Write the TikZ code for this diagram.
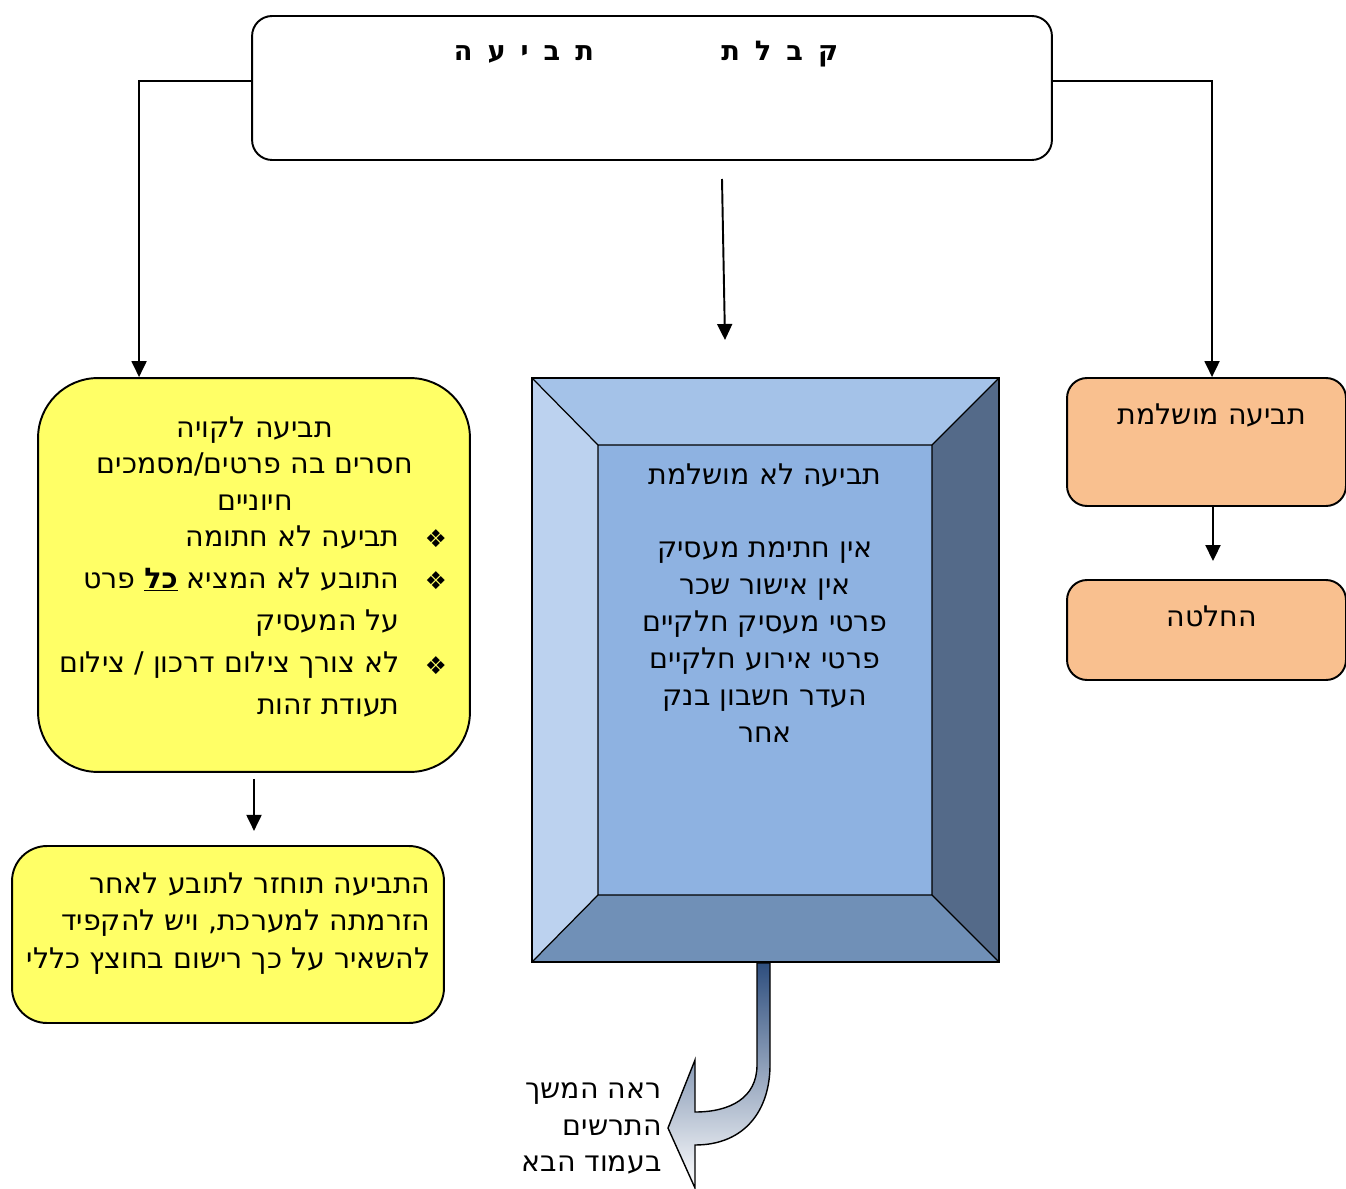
\documentclass[tikz,border=0pt]{standalone}
\usepackage{fontspec}
\setmainfont{DejaVu Sans}[Script=Hebrew]
\TeXXeTstate=1
\usetikzlibrary{arrows.meta, positioning}

\definecolor{boxYellow}{HTML}{FFFF66}
\definecolor{boxOrange}{HTML}{F9C08F}
\definecolor{bevelTop}{HTML}{A4C2E8}
\definecolor{bevelLeft}{HTML}{BCD2EF}
\definecolor{bevelRight}{HTML}{546A89}
\definecolor{bevelBottom}{HTML}{7090B7}
\definecolor{bevelFace}{HTML}{8EB2E1}
\definecolor{turnDark}{HTML}{2E4E7E}
\definecolor{turnMid}{HTML}{DCE0E8}

\newcommand{\heb}[1]{\beginR #1\endR}
\newcommand{\lsp}{\hspace{0.3cm}}

\tikzset{
    flowArrow/.style = {line width = 1.1pt, -{Triangle[width = 0.3cm, length = 0.32cm]}},
    roundBox/.style = {draw, line width = 1.1pt, inner sep = 0pt},
    hebText/.style = {inner sep = 0pt, font = \fontsize{16.2}{21}\selectfont},
}

\begin{document}
\begin{tikzpicture}[x = 0.02cm, y = -0.02cm]

    \useasboundingbox (0,0) rectangle (1346,1189);

    %% Drawing the title box
    \node [roundBox, rounded corners = 0.4cm, minimum width = 16cm, minimum height = 2.88cm]
    (title) at (652,88) {}
    ;

    \node [inner sep = 0pt, font = \bfseries\fontsize{15.5}{17}\selectfont]
    (titleText) at (646,54)
    {\heb{ק\lsp ב\lsp ל\lsp ת\hspace{2.55cm}ת\lsp ב\lsp י\lsp ע\lsp ה}}
    ;

    %% Drawing the defective claim boxes
    \node [roundBox, rounded corners = 1.2cm, fill = boxYellow, minimum width = 8.64cm, minimum height = 7.88cm]
    (defective) at (254,575) {}
    ;

    \node [hebText, align = center, anchor = north]
    (defectiveHead) at (255,416)
    {\heb{תביעה לקויה}\\ \heb{חסרים בה פרטים/מסמכים}\\ \heb{חיוניים}}
    ;

    \node [hebText, font = \fontsize{16.2}{24}\selectfont, align = right, anchor = north east]
    (defectiveList) at (400,525)
    {\heb{תביעה לא חתומה}\\
     \heb{התובע לא המציא \underline{\textbf{כל}} פרט}\\
     \heb{על המעסיק}\\
     \heb{לא צורך צילום דרכון / צילום}\\
     \heb{תעודת זהות}}
    ;

    \foreach \y [count = \i] in {539, 581, 666} {
        \node [hebText, font = \fontsize{14}{16}\selectfont] (bullet\i) at (436,\y) {❖};
    }

    \node [roundBox, rounded corners = 0.7cm, fill = boxYellow, minimum width = 8.64cm, minimum height = 3.54cm]
    (returned) at (228,934.5) {}
    ;

    \node [hebText, font = \fontsize{16.2}{21.4}\selectfont, align = right, anchor = north east]
    (returnedText) at (431,872)
    {\heb{התביעה תוחזר לתובע לאחר}\\
     \heb{הזרמתה למערכת, ויש להקפיד}\\
     \heb{להשאיר על כך רישום בחוצץ כללי}}
    ;

    %% Drawing the bevelled incomplete claim box
    \fill [bevelTop] (532,378) -- (999,378) -- (932,445) -- (598,445) -- cycle;
    \fill [bevelRight] (999,378) -- (999,962) -- (932,895) -- (932,445) -- cycle;
    \fill [bevelBottom] (999,962) -- (532,962) -- (598,895) -- (932,895) -- cycle;
    \fill [bevelLeft] (532,962) -- (532,378) -- (598,445) -- (598,895) -- cycle;
    \fill [bevelFace] (598,445) rectangle (932,895);

    \draw [line width = 0.7pt]
    (598,445) rectangle (932,895)
    (532,378) -- (598,445)
    (999,378) -- (932,445)
    (999,962) -- (932,895)
    (532,962) -- (598,895)
    ;

    \node [draw, line width = 1pt, inner sep = 0pt, minimum width = 9.34cm, minimum height = 11.68cm]
    (incomplete) at (765.5,670) {}
    ;

    \node [hebText, align = center, anchor = north]
    (incompleteText) at (765,463)
    {\heb{תביעה לא מושלמת}\\ ~\\
     \heb{אין חתימת מעסיק}\\
     \heb{אין אישור שכר}\\
     \heb{פרטי מעסיק חלקיים}\\
     \heb{פרטי אירוע חלקיים}\\
     \heb{העדר חשבון בנק}\\
     \heb{אחר}}
    ;

    %% Drawing the turning arrow below it
    \shadedraw [top color = turnDark, middle color = turnMid, bottom color = white, line width = 0.8pt]
    (incomplete.south -| 757,0)
    -- (757,1065)
    .. controls (757,1098) and (730,1112) .. (695,1112)
    -- (695,1060) -- (668,1128) -- (695,1188) -- (695,1145)
    .. controls (745,1145) and (770,1110) .. (770,1065)
    -- (incomplete.south -| 770,0)
    -- cycle
    ;

    \node [hebText, align = right, anchor = north east]
    (nextPage) at (662,1082)
    {\heb{ראה המשך}\\ \heb{התרשים}\\ \heb{בעמוד הבא}}
    ;

    %% Drawing the complete claim boxes
    \node [roundBox, rounded corners = 0.4cm, fill = boxOrange, minimum width = 5.58cm, minimum height = 2.56cm]
    (complete) at (1206.5,442) {}
    ;

    \node [hebText] (completeText) at (1212,415) {\heb{תביעה מושלמת}};

    \node [roundBox, rounded corners = 0.4cm, fill = boxOrange, minimum width = 5.58cm, minimum height = 2cm]
    (decision) at (1206.5,630) {}
    ;

    \node [hebText] (decisionText) at (1212,616) {\heb{החלטה}};

    %% Drawing the arrows
    \coordinate (midStart) at (722,179);
    \coordinate (midEnd) at (725,340);

    \draw [flowArrow] ([yshift = 0.14cm]title.west) -| ([xshift = 2.04cm]defective.north west);
    \draw [flowArrow] ([yshift = 0.14cm]title.east) -| ([xshift = 2.92cm]complete.north west);
    \draw [flowArrow] (midStart) -- (midEnd);
    \draw [flowArrow] ([yshift = -0.12cm]defective.south) -- ++(0,52);
    \draw [flowArrow] ([xshift = 0.13cm]complete.south) -- ([xshift = 0.13cm, yshift = 0.36cm]decision.north);

\end{tikzpicture}
\end{document}
